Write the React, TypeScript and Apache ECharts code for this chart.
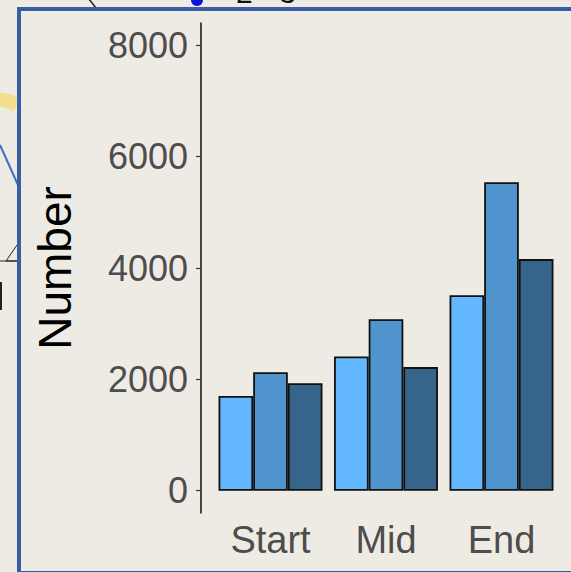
import React, { useEffect, useRef } from "react";
import * as echarts from "echarts";

const categories = ["Start", "Mid", "End"];
const seriesA = [1700, 2410, 3510];
const seriesB = [2130, 3080, 5540];
const seriesC = [1930, 2220, 4160];
const yTicks = [0, 2000, 4000, 6000, 8000];
const barColors = ["#63B8FF", "#4F94CD", "#36648B"];

export default function App() {
  const ref = useRef<HTMLDivElement>(null);
  useEffect(() => {
    document.body.style.margin = "0";
    const chart = echarts.init(ref.current!, null, { renderer: "svg" });
    const bar = (name: string, data: number[], color: string) => ({
      name,
      type: "bar",
      data,
      barGap: "0%",
      barCategoryGap: "10%",
      itemStyle: { color, borderColor: "#111", borderWidth: 1.8 },
    });
    chart.setOption({
      animation: false,
      backgroundColor: "#EEEBE4",
      grid: { left: 212.75, right: 11.75, top: 23, height: 490 },
      xAxis: {
        type: "category",
        data: categories,
        axisLine: { show: false },
        axisTick: { show: false },
        axisLabel: {
          color: "#4D4D4D",
          fontSize: 38,
          fontFamily: "Liberation Sans, Arial, sans-serif",
          margin: 8,
        },
      },
      yAxis: {
        type: "value",
        min: -400,
        max: 8400,
        offset: 11.75,
        splitLine: { show: false },
        axisLine: { show: true, lineStyle: { color: "#111", width: 1.5 } },
        axisTick: {
          show: true,
          length: 5,
          customValues: yTicks,
          lineStyle: { color: "#333", width: 1.2 },
        },
        axisLabel: {
          customValues: yTicks,
          formatter: (v: number) => String(v),
          color: "#4D4D4D",
          fontSize: 36,
          fontFamily: "Liberation Sans, Arial, sans-serif",
          margin: 13,
        },
      },
      series: [
        bar("A", seriesA, barColors[0]),
        bar("B", seriesB, barColors[1]),
        bar("C", seriesC, barColors[2]),
      ],
      graphic: [
        {
          type: "polyline",
          z: 1,
          shape: { points: [[-2, 99], [8, 101], [17, 105]] },
          style: { stroke: "#F2DE8E", lineWidth: 14, fill: null },
        },
        {
          type: "line",
          z: 1,
          shape: { x1: 0, y1: 145, x2: 18, y2: 185 },
          style: { stroke: "#3D6FC6", lineWidth: 2 },
        },
        {
          type: "polyline",
          z: 1,
          shape: { points: [[0, 261], [17, 261], [6, 261], [17, 245]] },
          style: { stroke: "#222", lineWidth: 1, fill: null },
        },
        {
          type: "line",
          z: 1,
          shape: { x1: 1, y1: 282, x2: 1, y2: 310 },
          style: { stroke: "#222", lineWidth: 2 },
        },
        {
          type: "circle",
          z: 1,
          shape: { cx: 197, cy: 0, r: 6 },
          style: { fill: "#0A14D8" },
        },
        {
          type: "bezierCurve",
          z: 1,
          shape: { x1: 86, y1: -4, x2: 96, y2: 8, cpx1: 90, cpy1: 0 },
          style: { stroke: "#222", lineWidth: 1.5, fill: null },
        },
        {
          type: "text",
          z: 1,
          style: {
            text: "2 - 3",
            x: 236,
            y: 7,
            fill: "#111",
            fontSize: 30,
            fontFamily: "Liberation Sans, Arial, sans-serif",
            verticalAlign: "bottom",
          },
        },
        {
          type: "rect",
          z: 5,
          shape: { x: 19, y: 9, width: 560, height: 564 },
          style: { fill: null, stroke: "#3A5EA4", lineWidth: 4 },
        },
        {
          type: "text",
          z: 5,
          x: 55,
          y: 268,
          rotation: Math.PI / 2,
          style: {
            text: "Number",
            fill: "#000",
            fontSize: 46,
            fontFamily: "Liberation Sans, Arial, sans-serif",
            align: "center",
            verticalAlign: "middle",
          },
        },
      ],
    });
    return () => chart.dispose();
  }, []);
  return <div ref={ref} style={{ width: 571, height: 572 }} />;
}
